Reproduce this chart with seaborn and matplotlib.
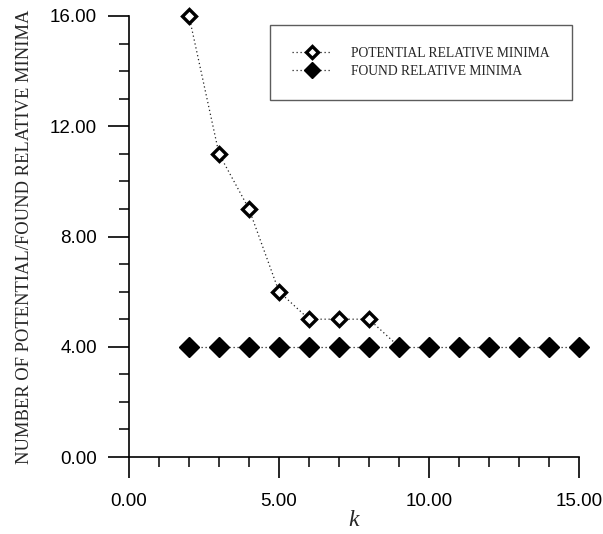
import matplotlib
matplotlib.use("Agg")
import matplotlib.pyplot as plt
import seaborn as sns
import pandas as pd
from matplotlib.ticker import MultipleLocator, FormatStrFormatter

# data
k_potential = [2, 3, 4, 5, 6, 7, 8, 9]
potential_minima = [16, 11, 9, 6, 5, 5, 5, 4]
k_found = [2, 3, 4, 5, 6, 7, 8, 9, 10, 11, 12, 13, 14, 15]
found_minima = [4, 4, 4, 4, 4, 4, 4, 4, 4, 4, 4, 4, 4, 4]
series_labels = ["POTENTIAL RELATIVE MINIMA", "FOUND RELATIVE MINIMA"]
x_label = "k"
y_label = "NUMBER OF POTENTIAL/FOUND RELATIVE MINIMA"

sns.set_theme(style="white")
plt.rcParams["font.family"] = ["Liberation Sans", "DejaVu Sans"]

fig = plt.figure(figsize=(6.03, 5.34), dpi=100)
ax = fig.add_axes([129 / 603, 1 - 457 / 534, 450 / 603, 441 / 534])

df_p = pd.DataFrame({"k": k_potential, "v": potential_minima})
df_f = pd.DataFrame({"k": k_found, "v": found_minima})

dot = (0, (1, 2.2))
sns.lineplot(data=df_p, x="k", y="v", ax=ax, color="#222222", lw=0.9,
             linestyle=dot, marker="D", markersize=7.2, markerfacecolor="white",
             markeredgecolor="black", markeredgewidth=2.4, label=series_labels[0],
             clip_on=False, zorder=3)
sns.lineplot(data=df_f, x="k", y="v", ax=ax, color="#222222", lw=0.9,
             linestyle=dot, marker="D", markersize=9.8, markerfacecolor="black",
             markeredgecolor="black", markeredgewidth=1, label=series_labels[1],
             clip_on=False, zorder=4)

ax.set_xlim(0, 15)
ax.set_ylim(0, 16)
ax.xaxis.set_major_locator(MultipleLocator(5))
ax.xaxis.set_minor_locator(MultipleLocator(1))
ax.yaxis.set_major_locator(MultipleLocator(4))
ax.yaxis.set_minor_locator(MultipleLocator(1))
ax.xaxis.set_major_formatter(FormatStrFormatter("%.2f"))
ax.yaxis.set_major_formatter(FormatStrFormatter("%.2f"))

for s in ["top", "right"]:
    ax.spines[s].set_visible(False)
for s in ["left", "bottom"]:
    ax.spines[s].set_color("black")
    ax.spines[s].set_linewidth(1.2)

ax.tick_params(axis="both", which="both", bottom=True, left=True, top=False, right=False)
ax.tick_params(axis="both", which="major", direction="out", length=15, width=1.2,
               color="black", labelsize=13.5, labelcolor="black")
ax.tick_params(axis="both", which="minor", direction="out", length=7, width=1.1,
               color="black")
ax.tick_params(axis="x", which="major", pad=11)
ax.tick_params(axis="y", which="major", pad=8)

ax.set_xlabel(x_label, fontsize=17, fontstyle="italic",
              family=["Liberation Serif", "DejaVu Serif"], labelpad=0)
ax.set_ylabel(y_label, fontsize=13.3, family=["Liberation Serif", "DejaVu Serif"],
              labelpad=12)

leg = ax.legend(loc="upper right", bbox_to_anchor=(0.984, 0.98),
                prop={"family": ["Liberation Serif", "DejaVu Serif"], "size": 9.8},
                frameon=True, fancybox=False, edgecolor="#333333",
                borderpad=1.6, handlelength=3.0, handletextpad=1.4,
                labelspacing=0.4, borderaxespad=0, markerscale=0.85)
leg.get_frame().set_linewidth(1.0)

fig.savefig("out.png", dpi=100)
